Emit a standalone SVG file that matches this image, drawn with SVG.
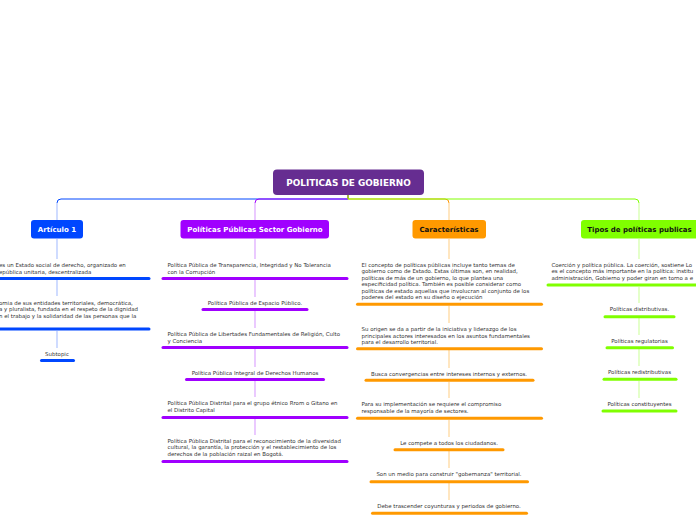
<svg xmlns="http://www.w3.org/2000/svg" width="696" height="520" viewBox="0 0 696 520">
<style>
.t{font-family:"DejaVu Sans",Verdana,sans-serif;font-size:5.45px;fill:#333}
.c{text-anchor:middle}
.n{font-family:"DejaVu Sans",Verdana,sans-serif;font-size:7px;font-weight:bold;text-anchor:middle}
.title{font-size:8.9px}
.bb{stroke:#0047FF;stroke-width:3;stroke-linecap:round}
.bp{stroke:#A000FF;stroke-width:3;stroke-linecap:round}
.bo{stroke:#FF9900;stroke-width:3;stroke-linecap:round}
.bg{stroke:#80FF00;stroke-width:3;stroke-linecap:round}
.vb{stroke:#AFC4FF;stroke-width:1.2}
.vp{stroke:#DDA6FF;stroke-width:1.2}
.vo{stroke:#FFD596;stroke-width:1.2}
.vg{stroke:#D2FFA6;stroke-width:1.2}
</style>
<rect width="696" height="520" fill="#fff"/>
<g id="connectors" fill="none">
<path d="M348,195 V199 H61 Q57,199 57,203" stroke="#0047FF" stroke-width="1"/>
<path d="M348,195 V199 H259 Q255,199 255,203" stroke="#A000FF" stroke-width="1"/>
<path d="M348,195 V199 H445 Q449,199 449,203" stroke="#FF9900" stroke-width="1"/>
<path d="M348,195 V199 H635 Q639,199 639,203" stroke="#80FF00" stroke-width="1"/>
<line class="vb" x1="57" y1="203" x2="57" y2="220"/>
<line class="vp" x1="255" y1="203" x2="255" y2="220"/>
<line class="vo" x1="449" y1="203" x2="449" y2="220"/>
<line class="vg" x1="639" y1="203" x2="639" y2="220"/>
<line class="vb" x1="57" y1="239" x2="57" y2="259"/>
<line class="vb" x1="57" y1="280" x2="57" y2="296"/>
<line class="vb" x1="57" y1="331" x2="57" y2="348"/>
<line class="vp" x1="255" y1="239" x2="255" y2="259"/>
<line class="vp" x1="255" y1="280" x2="255" y2="297"/>
<line class="vp" x1="255" y1="311" x2="255" y2="328"/>
<line class="vp" x1="255" y1="349" x2="255" y2="367"/>
<line class="vp" x1="255" y1="381" x2="255" y2="397"/>
<line class="vp" x1="255" y1="419" x2="255" y2="435"/>
<line class="vo" x1="449" y1="239" x2="449" y2="259"/>
<line class="vo" x1="449" y1="306" x2="449" y2="323"/>
<line class="vo" x1="449" y1="350" x2="449" y2="368"/>
<line class="vo" x1="449" y1="382" x2="449" y2="398"/>
<line class="vo" x1="449" y1="420" x2="449" y2="437"/>
<line class="vo" x1="449" y1="451" x2="449" y2="468"/>
<line class="vo" x1="449" y1="483" x2="449" y2="500"/>
<line class="vg" x1="639" y1="239" x2="639" y2="259"/>
<line class="vg" x1="639" y1="287" x2="639" y2="303"/>
<line class="vg" x1="639" y1="318" x2="639" y2="335"/>
<line class="vg" x1="639" y1="349" x2="639" y2="366"/>
<line class="vg" x1="639" y1="381" x2="639" y2="398"/>
</g>
<g id="root">
<rect x="273" y="169.5" width="151" height="25.5" rx="4" fill="#662D91"/>
<text class="n title" x="348.5" y="186" fill="#fff">POLITICAS DE GOBIERNO</text>
</g>
<g id="articulo1">
<rect x="31" y="220" width="52" height="18.5" rx="3" fill="#0047FF"/>
<text class="n" x="57" y="232" fill="#fff">Artículo 1</text>
</g>
<g id="a1-1">
<text class="t" x="-1" y="267">es un Estado social de derecho, organizado en</text>
<text class="t" x="-1" y="273.5">epública unitaria, descentralizada</text>
<line class="bb" x1="-2" y1="278.5" x2="149" y2="278.5"/>
</g>
<g id="a1-2">
<text class="t" x="-1" y="304.5">omia de sus entidades territoriales, democrática,</text>
<text class="t" x="-1" y="311">a y pluralista, fundada en el respeto de la dignidad</text>
<text class="t" x="-1" y="317.5">n el trabajo y la solidaridad de las personas que la</text>
<line class="bb" x1="-2" y1="329" x2="149" y2="329"/>
</g>
<g id="a1-3">
<text class="t c" x="57" y="356">Subtopic</text>
<line class="bb" x1="41.5" y1="360.5" x2="73.5" y2="360.5"/>
</g>
<g id="ppsg">
<rect x="180.5" y="220" width="148.5" height="18.5" rx="3" fill="#A000FF"/>
<text class="n" x="255" y="232" fill="#fff">Políticas Públicas Sector Gobierno</text>
</g>
<g id="pp-1">
<text class="t" x="167.5" y="267">Política Pública de Transparencia, Integridad y No Tolerancia</text>
<text class="t" x="167.5" y="273.5">con la Corrupción</text>
<line class="bp" x1="163" y1="278.5" x2="347" y2="278.5"/>
</g>
<g id="pp-2">
<text class="t c" x="255" y="304.5">Política Pública de Espacio Público.</text>
<line class="bp" x1="203" y1="309.5" x2="307" y2="309.5"/>
</g>
<g id="pp-3">
<text class="t" x="167.5" y="336">Política Pública de Libertades Fundamentales de Religión, Culto</text>
<text class="t" x="167.5" y="342.5">y Conciencia</text>
<line class="bp" x1="163" y1="347.5" x2="347" y2="347.5"/>
</g>
<g id="pp-4">
<text class="t c" x="255" y="374.5">Política Pública Integral de Derechos Humanos</text>
<line class="bp" x1="186.5" y1="379.5" x2="323.5" y2="379.5"/>
</g>
<g id="pp-5">
<text class="t" x="167.5" y="405">Política Pública Distrital para el grupo étnico Rrom o Gitano en</text>
<text class="t" x="167.5" y="411.5">el Distrito Capital</text>
<line class="bp" x1="163" y1="417.5" x2="347" y2="417.5"/>
</g>
<g id="pp-6">
<text class="t" x="167.5" y="442.5">Política Pública Distrital para el reconocimiento de la diversidad</text>
<text class="t" x="167.5" y="449">cultural, la garantía, la protección y el restablecimiento de los</text>
<text class="t" x="167.5" y="456">derechos de la población raizal en Bogotá.</text>
<line class="bp" x1="163" y1="461.5" x2="347" y2="461.5"/>
</g>
<g id="caracteristicas">
<rect x="412.5" y="220" width="73.5" height="18.5" rx="3" fill="#FF9900"/>
<text class="n" x="449" y="232" fill="#111">Características</text>
</g>
<g id="ca-1">
<text class="t" x="361.5" y="267">El concepto de políticas públicas incluye tanto temas de</text>
<text class="t" x="361.5" y="273.3">gobierno como de Estado. Estas últimas son, en realidad,</text>
<text class="t" x="361.5" y="279.7">políticas de más de un gobierno, lo que plantea una</text>
<text class="t" x="361.5" y="286">especificidad política. También es posible considerar como</text>
<text class="t" x="361.5" y="292.8">políticas de estado aquellas que involucran al conjunto de los</text>
<text class="t" x="361.5" y="299.2">poderes del estado en su diseño o ejecución</text>
<line class="bo" x1="357.5" y1="304.3" x2="541.5" y2="304.3"/>
</g>
<g id="ca-2">
<text class="t" x="361.5" y="331">Su origen se da a partir de la iniciativa y liderazgo de los</text>
<text class="t" x="361.5" y="337.5">principales actores interesados en los asuntos fundamentales</text>
<text class="t" x="361.5" y="344">para el desarrollo territorial.</text>
<line class="bo" x1="357.5" y1="348.7" x2="541.5" y2="348.7"/>
</g>
<g id="ca-3">
<text class="t c" x="449" y="375.8">Busca convergencias entre intereses internos y externos.</text>
<line class="bo" x1="366" y1="380.3" x2="533" y2="380.3"/>
</g>
<g id="ca-4">
<text class="t" x="361.5" y="406">Para su implementación se requiere el compromiso</text>
<text class="t" x="361.5" y="413">responsable de la mayoría de sectores.</text>
<line class="bo" x1="357.5" y1="418.3" x2="541.5" y2="418.3"/>
</g>
<g id="ca-5">
<text class="t c" x="449" y="445">Le compete a todos los ciudadanos.</text>
<line class="bo" x1="395" y1="449.7" x2="503" y2="449.7"/>
</g>
<g id="ca-6">
<text class="t c" x="449" y="476">Son un medio para construir "gobernanza" territorial.</text>
<line class="bo" x1="371" y1="481.7" x2="527.5" y2="481.7"/>
</g>
<g id="ca-7">
<text class="t c" x="449" y="507.8">Debe trascender coyunturas y periodos de gobierno.</text>
<line class="bo" x1="372.5" y1="513.3" x2="526.5" y2="513.3"/>
</g>
<g id="tipos">
<rect x="581" y="220" width="120" height="18.5" rx="3" fill="#80FF00"/>
<text class="n" x="639.5" y="232" fill="#111">Tipos de políticas publicas</text>
</g>
<g id="ti-1">
<text class="t" x="551.5" y="267">Coerción y política pública. La coerción, sostiene Lo</text>
<text class="t" x="551.5" y="273.3">es el concepto más importante en la política: institu</text>
<text class="t" x="551.5" y="280">administración, Gobierno y poder giran en torno a e</text>
<line class="bg" x1="548" y1="285" x2="700" y2="285"/>
</g>
<g id="ti-2">
<text class="t c" x="639.5" y="311">Políticas distributivas.</text>
<line class="bg" x1="605" y1="316.7" x2="674" y2="316.7"/>
</g>
<g id="ti-3">
<text class="t c" x="639.5" y="342.7">Políticas regulatorias</text>
<line class="bg" x1="607" y1="347.7" x2="672.5" y2="347.7"/>
</g>
<g id="ti-4">
<text class="t c" x="639.5" y="374">Políticas redistributivas</text>
<line class="bg" x1="604" y1="379.3" x2="676" y2="379.3"/>
</g>
<g id="ti-5">
<text class="t c" x="639.5" y="405.7">Políticas constituyentes</text>
<line class="bg" x1="603" y1="411" x2="676" y2="411"/>
</g>
</svg>
